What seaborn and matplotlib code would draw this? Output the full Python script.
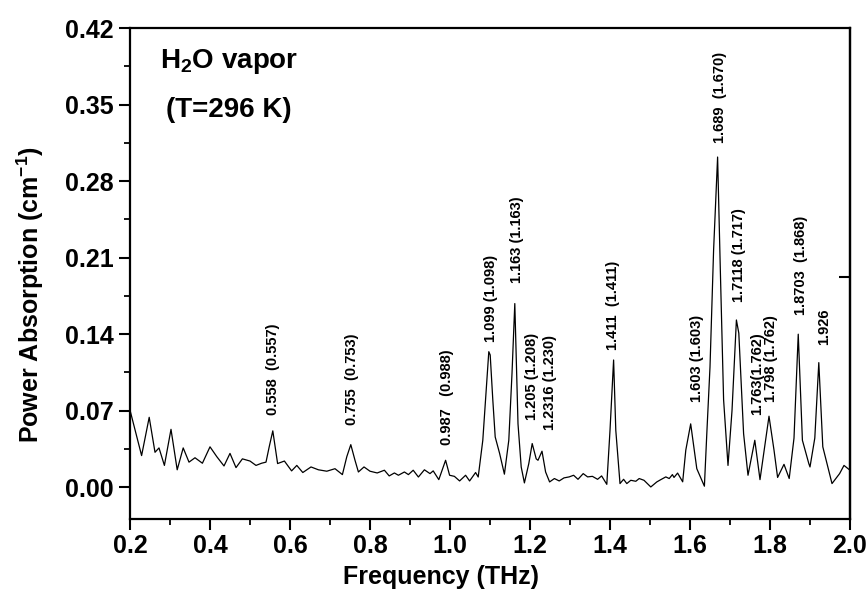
import matplotlib
matplotlib.use("Agg")
import matplotlib.pyplot as plt
import seaborn as sns
import pandas as pd

# ---------------- data ----------------
freq = [0.200, 0.229, 0.248, 0.2625, 0.2725, 0.286, 0.3025, 0.318, 0.333, 0.3475,
        0.3625, 0.381, 0.400, 0.417, 0.435, 0.450, 0.465, 0.481, 0.500, 0.515,
        0.529, 0.540, 0.548, 0.557, 0.569, 0.586, 0.604, 0.617, 0.632, 0.6525,
        0.671, 0.692, 0.7125, 0.731, 0.742, 0.752, 0.7625, 0.771, 0.785, 0.800,
        0.818, 0.836, 0.848, 0.861, 0.871, 0.886, 0.896, 0.908, 0.921, 0.936,
        0.950, 0.958, 0.972, 0.989, 0.999, 1.011, 1.024, 1.039, 1.049, 1.064,
        1.0705, 1.082, 1.0905, 1.097, 1.1005, 1.107, 1.113, 1.124, 1.136, 1.147,
        1.155, 1.162, 1.170, 1.178, 1.186, 1.197, 1.2055, 1.2155, 1.220, 1.230,
        1.239, 1.249, 1.261, 1.273, 1.285, 1.298, 1.309, 1.320, 1.333, 1.344,
        1.356, 1.369, 1.379, 1.392, 1.400, 1.409, 1.4145, 1.425, 1.434, 1.442,
        1.452, 1.4645, 1.473, 1.485, 1.502, 1.517, 1.527, 1.5395, 1.548, 1.556,
        1.560, 1.569, 1.5817, 1.5895, 1.6017, 1.617, 1.636, 1.642, 1.650, 1.659,
        1.669, 1.6756, 1.684, 1.695, 1.705, 1.716, 1.722, 1.734, 1.745, 1.762,
        1.775, 1.7975, 1.810, 1.819, 1.835, 1.848, 1.860, 1.8706, 1.881, 1.897,
        1.900, 1.912, 1.922, 1.932, 1.955, 1.974, 1.985, 2.000]
absorption = [0.0706, 0.029, 0.064, 0.032, 0.036, 0.020, 0.053, 0.016, 0.036, 0.023,
              0.027, 0.022, 0.037, 0.028, 0.0195, 0.031, 0.018, 0.026, 0.024, 0.020,
              0.022, 0.023, 0.037, 0.0516, 0.0217, 0.024, 0.015, 0.020, 0.0135, 0.0186,
              0.016, 0.0147, 0.017, 0.0116, 0.028, 0.039, 0.0247, 0.014, 0.0186, 0.0147,
              0.0131, 0.0156, 0.0104, 0.0131, 0.011, 0.014, 0.0116, 0.0156, 0.0094, 0.016,
              0.0125, 0.015, 0.007, 0.0247, 0.011, 0.010, 0.0058, 0.011, 0.0058, 0.0135,
              0.0094, 0.043, 0.089, 0.124, 0.121, 0.080, 0.046, 0.031, 0.012, 0.043,
              0.104, 0.168, 0.058, 0.0186, 0.004, 0.0217, 0.040, 0.026, 0.0247, 0.033,
              0.014, 0.0049, 0.008, 0.0058, 0.0086, 0.0095, 0.011, 0.0073, 0.0125, 0.0095,
              0.010, 0.0073, 0.0104, 0.0027, 0.052, 0.1164, 0.052, 0.0034, 0.0073, 0.0034,
              0.0064, 0.0055, 0.008, 0.0064, 0.0003, 0.0049, 0.007, 0.0095, 0.008, 0.0116,
              0.009, 0.013, 0.005, 0.034, 0.058, 0.017, 0.001, 0.049, 0.110, 0.217,
              0.302, 0.202, 0.080, 0.020, 0.070, 0.153, 0.141, 0.049, 0.011, 0.043,
              0.007, 0.065, 0.034, 0.009, 0.021, 0.008, 0.045, 0.140, 0.043, 0.0217,
              0.0186, 0.045, 0.114, 0.037, 0.0034, 0.0125, 0.020, 0.0156]

peak_labels = ["0.558  (0.557)", "0.755  (0.753)", "0.987   (0.988)", "1.099 (1.098)",
               "1.163 (1.163)", "1.205 (1.208)", "1.2316 (1.230)", "1.411  (1.411)",
               "1.603 (1.603)", "1.689  (1.670)", "1.7118 (1.717)", "1.763(1.762)",
               "1.798 (1.762)", "1.8703  (1.868)", "1.926"]
label_freq = [0.5575, 0.755, 0.992, 1.1025, 1.1675, 1.204, 1.25, 1.4075,
              1.617, 1.6756, 1.722, 1.768, 1.8017, 1.877, 1.936]
label_abs = [0.066, 0.057, 0.0385, 0.133, 0.187, 0.0614, 0.052, 0.1256,
             0.078, 0.315, 0.169, 0.066, 0.078, 0.158, 0.130]

x_ticks = [0.2, 0.4, 0.6, 0.8, 1.0, 1.2, 1.4, 1.6, 1.8, 2.0]
x_tick_labels = ["0.2", "0.4", "0.6", "0.8", "1.0", "1.2", "1.4", "1.6", "1.8", "2.0"]
y_ticks = [0.0, 0.07, 0.14, 0.21, 0.28, 0.35, 0.42]
y_tick_labels = ["0.00", "0.07", "0.14", "0.21", "0.28", "0.35", "0.42"]

# ---------------- style ----------------
sns.set_style("ticks")
plt.rcParams["font.family"] = ["Liberation Sans", "DejaVu Sans"]
plt.rcParams["font.weight"] = "bold"
plt.rcParams["text.color"] = "black"
plt.rcParams["axes.labelcolor"] = "black"
plt.rcParams["xtick.color"] = "black"
plt.rcParams["ytick.color"] = "black"
plt.rcParams["mathtext.fontset"] = "custom"
plt.rcParams["mathtext.rm"] = "Liberation Sans:bold"
plt.rcParams["mathtext.bf"] = "Liberation Sans:bold"
plt.rcParams["mathtext.it"] = "Liberation Sans:bold"
plt.rcParams["mathtext.sf"] = "Liberation Sans:bold"

fig = plt.figure(figsize=(8.68, 6.10), dpi=100)
ax = fig.add_axes([130 / 868, 91 / 610, 720 / 868, 491 / 610])

df = pd.DataFrame({"Frequency": freq, "Absorption": absorption})
sns.lineplot(data=df, x="Frequency", y="Absorption", ax=ax, color="black",
             linewidth=0.9, estimator=None, sort=False)

ax.set_xlim(0.2, 2.0)
ax.set_ylim(-0.029, 0.42)

ax.set_xticks(x_ticks)
ax.set_xticklabels(x_tick_labels)
ax.set_yticks(y_ticks)
ax.set_yticklabels(y_tick_labels)
ax.set_xticks([0.3, 0.5, 0.7, 0.9, 1.1, 1.3, 1.5, 1.7, 1.9], minor=True)
ax.set_yticks([0.035, 0.105, 0.175, 0.245, 0.315, 0.385], minor=True)

for s in ax.spines.values():
    s.set_linewidth(1.6)
    s.set_color("black")
    s.set_visible(True)

ax.tick_params(axis="both", which="major", direction="out", length=8, width=1.5,
               labelsize=18, colors="black")
ax.tick_params(axis="both", which="minor", direction="out", length=4.5, width=1.3,
               colors="black")
ax.tick_params(axis="y", which="major", pad=4)
ax.tick_params(axis="x", which="major", pad=3)
ax.tick_params(top=False, right=False, which="both")
for lab in ax.get_xticklabels() + ax.get_yticklabels():
    lab.set_fontweight("bold")
    lab.set_color("black")

# single inward tick on the right spine
sec = ax.secondary_yaxis("right")
sec.set_yticks([0.192])
sec.tick_params(direction="in", length=8, width=1.5, labelright=False, colors="black")
sec.spines["right"].set_linewidth(1.6)
sec.spines["right"].set_color("black")

ax.set_xlabel("Frequency (THz)", fontsize=18, fontweight="bold", color="black")
ax.set_ylabel(r"Power Absorption (cm$^{-1}$)", fontsize=18, fontweight="bold",
              color="black")
ax.xaxis.set_label_coords(0.432, -0.094)
ax.yaxis.set_label_coords(-0.117, 0.456)

for txt, fx, fy in zip(peak_labels, label_freq, label_abs):
    ax.text(fx, fy, txt, rotation=90, ha="center", va="bottom",
            fontsize=10.5, fontweight="bold", color="black")

ax.text(0.042, 0.918, r"H$_{2}$O vapor", transform=ax.transAxes,
        fontsize=20, fontweight="bold", ha="left", va="baseline", color="black")
ax.text(0.05, 0.819, "(T=296 K)", transform=ax.transAxes,
        fontsize=20, fontweight="bold", ha="left", va="baseline", color="black")

fig.savefig("out.png", dpi=100)
